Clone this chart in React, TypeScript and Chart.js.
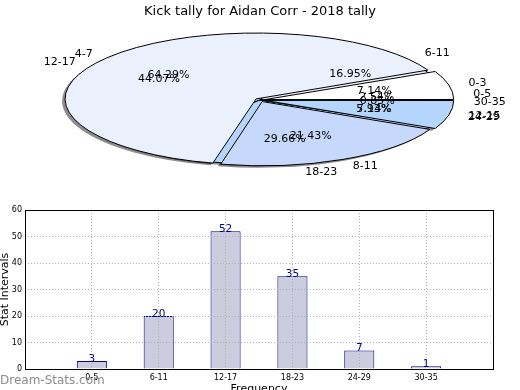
import { useEffect, useRef } from "react";
import { Chart, registerables } from "chart.js";

Chart.register(...registerables);

const TITLE = "Kick tally for Aidan Corr - 2018 tally";

// Outer pie (drawn underneath) and bar chart data
const groupsA = ["0-5", "6-11", "12-17", "18-23", "24-29", "30-35"];
const countsA = [3, 20, 52, 35, 7, 1];
const colorsA = ["#ffffff", "#eaf1fd", "#c6d9fd", "#b4d5fc", "#ffffff", "#eaf1fd"];

// Second pie (drawn on top)
const groupsB = ["0-3", "4-7", "8-11", "12-15"];
const countsB = [1, 9, 3, 1];
const colorsB = ["#ffffff", "#eaf1fd", "#c6d9fd", "#b4d5fc"];

const Y_MIN = 0;
const Y_MAX = 60;
const Y_STEP = 10;
const Y_TITLE = "Stat Intervals";
const X_TITLE = "Frequency";
const WATERMARK = "Dream-Stats.com";

const FONT = "DejaVu Sans";
const PIE_R = 186;
const SQ = 0.345;
const LABEL_R = 1.15;
const PCT_R = 0.63;

function applySquish(ctx: CanvasRenderingContext2D, cx: number, cy: number) {
  ctx.translate(cx, cy);
  ctx.scale(1, -SQ);
  ctx.translate(-cx, -cy);
}

function drawShadowArcs(ctx: CanvasRenderingContext2D, meta: any) {
  for (const arc of meta.data) {
    const off = ((arc.options && arc.options.offset) || 0) / 4;
    const m = (arc.startAngle + arc.endAngle) / 2;
    const circ = arc.endAngle - arc.startAngle;
    const fix = 1 - Math.sin(Math.min(Math.PI, circ));
    const x = arc.x + Math.cos(m) * off;
    const y = arc.y + Math.sin(m) * off;
    ctx.beginPath();
    ctx.moveTo(x, y);
    ctx.arc(x, y, arc.outerRadius + off * fix, arc.startAngle, arc.endAngle);
    ctx.closePath();
    ctx.fill();
  }
}

function squishPlugin(shadowOf: () => any[]) {
  return {
    id: "squish",
    beforeDatasetsDraw(chart: any) {
      const ctx: CanvasRenderingContext2D = chart.ctx;
      const meta = chart.getDatasetMeta(0);
      const first = meta.data[0];
      const cx = first.x;
      const cy = first.y;
      const base = ctx.getTransform();
      ctx.save();
      const origStroke = CanvasRenderingContext2D.prototype.stroke;
      (ctx as any).stroke = function (...args: any[]) {
        ctx.save();
        ctx.setTransform(base);
        origStroke.apply(ctx, args as any);
        ctx.restore();
      };
      const metas = shadowOf();
      if (metas.length) {
        ctx.save();
        ctx.translate(-3, 2);
        applySquish(ctx, cx, cy);
        ctx.fillStyle = "rgba(0,0,0,0.45)";
        metas.forEach((mt) => drawShadowArcs(ctx, mt));
        ctx.restore();
      }
      applySquish(ctx, cx, cy);
    },
    afterDatasetsDraw(chart: any) {
      const ctx = chart.ctx;
      ctx.restore();
      delete (ctx as any).stroke;
    },
  };
}

function drawPieLabels(ctx: CanvasRenderingContext2D, chart: any, labels: string[], values: number[]) {
  const meta = chart.getDatasetMeta(0);
  const total = values.reduce((a, b) => a + b, 0);
  ctx.save();
  ctx.fillStyle = "#000";
  ctx.font = `11px "${FONT}"`;
  ctx.textBaseline = "middle";
  meta.data.forEach((arc: any, i: number) => {
    const m = (arc.startAngle + arc.endAngle) / 2;
    const c = Math.cos(m);
    const s = Math.sin(m);
    const R = arc.outerRadius;
    const lx = arc.x + c * R * LABEL_R;
    const ly = arc.y - s * R * LABEL_R * SQ;
    ctx.textAlign = c > 0 ? "left" : "right";
    ctx.fillText(labels[i], lx, ly);
    const px = arc.x + c * R * PCT_R;
    const py = arc.y - s * R * PCT_R * SQ;
    ctx.textAlign = "center";
    ctx.fillText(((values[i] / total) * 100).toFixed(2) + "%", px, py);
  });
  ctx.restore();
}

function pieConfig(labels: string[], values: number[], colors: string[], offset: number, shadowOf: () => any[], extra: any[]) {
  return {
    type: "pie",
    data: {
      labels,
      datasets: [
        {
          data: values,
          backgroundColor: colors,
          borderColor: "#000000",
          borderWidth: 1,
          offset,
          clip: false,
        },
      ],
    },
    options: {
      animation: false,
      responsive: false,
      events: [],
      rotation: 90,
      radius: PIE_R,
      layout: { padding: 0 },
      plugins: { legend: { display: false }, tooltip: { enabled: false }, title: { display: false } },
    },
    plugins: [squishPlugin(shadowOf), ...extra],
  } as any;
}

export default function App() {
  const pieARef = useRef<HTMLCanvasElement>(null);
  const pieBRef = useRef<HTMLCanvasElement>(null);
  const barRef = useRef<HTMLCanvasElement>(null);

  useEffect(() => {
    let chartA: any = null;

    const labelPlugin = {
      id: "pieLabels",
      afterDraw(chart: any) {
        const ctx: CanvasRenderingContext2D = chart.ctx;
        if (chartA) drawPieLabels(ctx, chartA, groupsA, countsA);
        drawPieLabels(ctx, chart, groupsB, countsB);
        ctx.save();
        ctx.fillStyle = "#000";
        ctx.font = `13px "${FONT}"`;
        ctx.textAlign = "center";
        ctx.textBaseline = "alphabetic";
        ctx.fillText(TITLE, 260, 15);
        ctx.restore();
      },
    };
    const chartB = new Chart(pieBRef.current!, pieConfig(groupsB, countsB, colorsB, 20, () => [], [labelPlugin]));

    chartA = new Chart(
      pieARef.current!,
      pieConfig(groupsA, countsA, colorsA, 0, () => [chartB.getDatasetMeta(0), chartA ? chartA.getDatasetMeta(0) : null].filter(Boolean), [])
    );
    chartA.draw();
    chartB.draw();

    const barPlugin = {
      id: "barExtras",
      afterDraw(chart: any) {
        const ctx: CanvasRenderingContext2D = chart.ctx;
        const { left, top, right, bottom } = chart.chartArea;
        ctx.save();
        ctx.strokeStyle = "#000";
        ctx.lineWidth = 1;
        ctx.strokeRect(Math.round(left) + 0.5, Math.round(top) + 0.5, Math.round(right - left), Math.round(bottom - top));
        const meta = chart.getDatasetMeta(0);
        ctx.fillStyle = "#000080";
        ctx.font = `10.5px "${FONT}"`;
        ctx.textAlign = "center";
        ctx.textBaseline = "alphabetic";
        meta.data.forEach((bar: any, i: number) => {
          ctx.fillText(String(countsA[i]), bar.x, bar.y + 1);
        });
        ctx.fillStyle = "#8c8c8c";
        ctx.font = `12px "${FONT}"`;
        ctx.textAlign = "left";
        ctx.textBaseline = "middle";
        ctx.fillText(WATERMARK, 0, 186);
        ctx.restore();
      },
    };

    const gridCommon = { color: "#b0b0b0", lineWidth: 1, drawTicks: false, z: 1, offset: false };
    const chartBar = new Chart(barRef.current!, {
      type: "bar",
      data: {
        datasets: [
          {
            data: groupsA.map((_, i) => ({ x: i, y: countsA[i] })),
            backgroundColor: "#ccccdf",
            borderColor: "#000080",
            borderWidth: 1,
            barPercentage: 0.45,
            categoryPercentage: 1,
          },
        ],
      },
      options: {
        animation: false,
        responsive: false,
        events: [],
        layout: { padding: { top: 15, right: 27, left: 0, bottom: 0 } },
        plugins: { legend: { display: false }, tooltip: { enabled: false } },
        scales: {
          x: {
            type: "linear",
            offset: false,
            min: -1,
            max: groupsA.length,
            afterFit: (s: any) => {
              s.height = 31;
            },
            ticks: {
              stepSize: 1,
              autoSkip: false,
              maxRotation: 0,
              padding: 4,
              color: "#000",
              font: { family: FONT, size: 8 },
              callback: (v: any) => groupsA[v] ?? "",
            },
            grid: gridCommon,
            border: { display: false, dash: [1, 2] },
            title: {
              display: true,
              text: X_TITLE,
              color: "#000",
              font: { family: FONT, size: 11 },
              padding: { top: 0, bottom: 4 },
            },
          },
          y: {
            min: Y_MIN,
            max: Y_MAX,
            afterFit: (s: any) => {
              s.width = 25;
            },
            ticks: {
              stepSize: Y_STEP,
              padding: 3,
              color: "#000",
              font: { family: FONT, size: 8 },
            },
            grid: gridCommon,
            border: { display: false, dash: [1, 2] },
            title: {
              display: true,
              text: Y_TITLE,
              color: "#000",
              font: { family: FONT, size: 11, lineHeight: 1 },
              padding: { top: 0, bottom: 0 },
            },
          },
        },
      },
      plugins: [barPlugin],
    } as any);

    return () => {
      chartBar.destroy();
      chartA.destroy();
      chartB.destroy();
    };
  }, []);

  return (
    <div
      style={{
        position: "fixed",
        left: 0,
        top: 0,
        width: 520,
        height: 390,
        overflow: "hidden",
        background: "#ffffff",
      }}
    >
      <canvas ref={barRef} width={520} height={205} style={{ position: "absolute", left: 0, top: 195 }} />
      <canvas ref={pieARef} width={520} height={200} style={{ position: "absolute", left: 0, top: 0 }} />
      <canvas ref={pieBRef} width={520} height={200} style={{ position: "absolute", left: 0, top: 0 }} />
    </div>
  );
}
